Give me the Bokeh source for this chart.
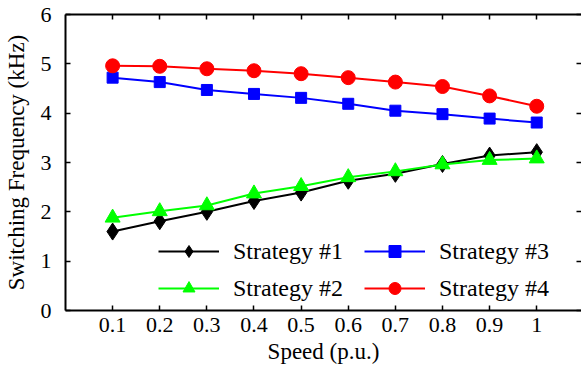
from bokeh.plotting import figure
from bokeh.models import Range1d, LinearAxis, FixedTicker, Legend, LegendItem
from bokeh.embed import file_html
from bokeh.resources import INLINE

speed = [0.1, 0.2, 0.3, 0.4, 0.5, 0.6, 0.7, 0.8, 0.9, 1.0]
strategy1 = [1.60, 1.81, 2.00, 2.22, 2.39, 2.63, 2.77, 2.97, 3.14, 3.21]
strategy2 = [1.88, 2.01, 2.13, 2.37, 2.52, 2.70, 2.82, 2.96, 3.05, 3.08]
strategy3 = [4.72, 4.63, 4.47, 4.39, 4.31, 4.19, 4.05, 3.98, 3.89, 3.81]
strategy4 = [4.96, 4.95, 4.90, 4.86, 4.80, 4.72, 4.63, 4.54, 4.35, 4.14]
series_names = ["Strategy #1", "Strategy #2", "Strategy #3", "Strategy #4"]
x_ticks = [0.1, 0.2, 0.3, 0.4, 0.5, 0.6, 0.7, 0.8, 0.9, 1.0]
x_tick_labels = ["0.1", "0.2", "0.3", "0.4", "0.5", "0.6", "0.7", "0.8", "0.9", "1"]
y_ticks = [0, 1, 2, 3, 4, 5, 6]

FONT = "Liberation Serif"

p = figure(width=581, height=367, output_backend="svg", toolbar_location=None,
           x_range=Range1d(0, 1.095), y_range=Range1d(0, 6),
           min_border_left=65, min_border_bottom=57, min_border_top=14, min_border_right=0)
p.outline_line_color = None
p.xgrid.visible = False
p.ygrid.visible = False
p.background_fill_color = "white"
p.border_fill_color = "white"

def style_axis(ax, ticks, labels=True):
    ax.axis_line_color = "black"
    ax.axis_line_width = 2
    ax.major_tick_line_color = "black"
    ax.major_tick_line_width = 1.5
    ax.major_tick_in = 5
    ax.major_tick_out = 0
    ax.minor_tick_line_color = None
    ax.major_label_text_font = FONT
    ax.major_label_text_color = "black"
    ax.axis_label_text_font = FONT
    ax.axis_label_text_font_style = "normal"
    ax.axis_label_text_color = "black"
    ax.axis_label_text_font_size = "23px"
    if labels:
        ax.major_label_text_font_size = "22px"
    else:
        ax.major_label_overrides = {t: "" for t in ticks}
        ax.major_label_text_font_size = "1px"
        ax.major_label_standoff = 0

xax = p.xaxis[0]
xax.ticker = FixedTicker(ticks=x_ticks)
xax.major_label_overrides = {t: l for t, l in zip(x_ticks, x_tick_labels)}
xax.axis_label = "Speed (p.u.)"
style_axis(xax, x_ticks)
xax.major_label_standoff = 7
xax.axis_label_standoff = 4

yax = p.yaxis[0]
yax.ticker = FixedTicker(ticks=y_ticks)
yax.axis_label = "Switching Frequency (kHz)"
style_axis(yax, y_ticks)
yax.major_label_standoff = 14
yax.axis_label_standoff = 9

top = LinearAxis(ticker=FixedTicker(ticks=x_ticks))
style_axis(top, x_ticks, labels=False)
p.add_layout(top, "above")

right = LinearAxis(ticker=FixedTicker(ticks=y_ticks))
style_axis(right, y_ticks, labels=False)
right.axis_line_color = None
p.add_layout(right, "right")

colors = ["black", "#00ff00", "#0000ff", "#ff0000"]
markers = ["diamond", "triangle", "square", "circle"]
sizes = [17, 15, 11, 14]
data = [strategy1, strategy2, strategy3, strategy4]

items = []
for name, ys, c, m, s in zip(series_names, data, colors, markers, sizes):
    l = p.line(speed, ys, line_color=c, line_width=2)
    r = p.scatter(speed, ys, marker=m, size=s, fill_color=c, line_color=c)
    items.append(LegendItem(label=name, renderers=[l, r]))

legend = Legend(items=items, orientation="vertical", ncols=2,
                location=(93, 7), padding=0, margin=0,
                glyph_width=61, glyph_height=30, label_height=30, label_width=124,
                label_standoff=14, spacing=7,
                label_text_font=FONT, label_text_font_size="24px", label_text_color="black",
                background_fill_alpha=0, border_line_color=None)
p.add_layout(legend, "center")

open("out.html", "w").write(file_html(p, INLINE))
